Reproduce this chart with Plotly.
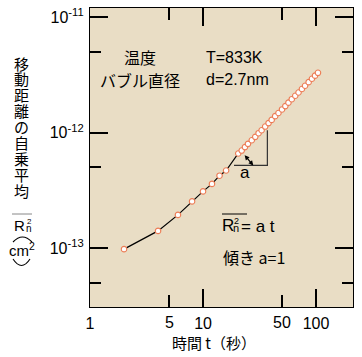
import math
import plotly.graph_objects as go

# ---- data ----
time_s = [2, 4, 6, 8, 10, 12, 14, 16,
          20.5, 22, 23.5, 25, 27, 29, 31, 33, 35.5, 38, 40.5, 43.5, 46.5,
          50, 53.5, 57, 61, 65.5, 70, 75, 80, 86, 92, 98, 104]
msd_cm2 = [9.8e-14, 1.41e-13, 1.94e-13, 2.54e-13, 3.1e-13, 3.6e-13, 4.24e-13, 4.7e-13,
           6.6e-13, 7.0e-13, 7.5e-13, 8.0e-13, 8.6e-13, 9.2e-13, 9.9e-13, 1.05e-12,
           1.13e-12, 1.21e-12, 1.29e-12, 1.39e-12, 1.48e-12, 1.59e-12, 1.70e-12,
           1.82e-12, 1.95e-12, 2.09e-12, 2.23e-12, 2.39e-12, 2.55e-12, 2.74e-12,
           2.93e-12, 3.12e-12, 3.3e-12]

tri_t = [18.8, 37.1, 37.1]
tri_y = [5.2e-13, 5.2e-13, 1.05e-12]

x_major = [1, 10, 100]
x_major_text = ["1", "10", "100"]
x_minor = [5, 50]
x_minor_text = ["5", "50"]
y_major = [1e-13, 1e-12, 1e-11]
y_major_text = ["10<sup>-13</sup>", "10<sup>-12</sup>", "10<sup>-11</sup>"]
y_minor = [5e-14, 5e-13, 5e-12]

ytitle_chars = ["移", "動", "距", "離", "の", "自", "乗", "平", "均"]

# ---- figure ----
W, H = 362, 357
L, R, T, B = 90, 9, 8, 50
PW, PH = W - L - R, H - T - B
FONT = "Liberation Sans, Arial, Noto Sans CJK JP"
CJK = "Noto Sans CJK JP, Liberation Sans"


def px(x):
    # page pixel -> paper fraction
    return (x - L) / PW


def py(y):
    return (H - B - y) / PH


fig = go.Figure()
fig.add_trace(go.Scatter(x=tri_t, y=tri_y, mode="lines",
                         line=dict(color="#333333", width=1.2),
                         hoverinfo="skip", showlegend=False))
fig.add_trace(go.Scatter(x=time_s, y=msd_cm2, mode="lines+markers",
                         line=dict(color="black", width=1.2),
                         marker=dict(symbol="circle", size=5.5, color="white",
                                     line=dict(color="#EC7C55", width=1.1)),
                         showlegend=False))

axis_common = dict(showline=True, linecolor="black", linewidth=1.2,
                   mirror="allticks", ticks="inside", ticklen=18,
                   tickcolor="black", tickwidth=1.5, showgrid=False,
                   zeroline=False, automargin=False,
                   ticklabeloverflow="allow",
                   tickfont=dict(family=FONT, size=16, color="black"))

fig.update_xaxes(type="log", range=[0, 2.327], tickmode="array",
                 tickvals=x_major, ticktext=x_major_text,
                 ticklabelstandoff=2,
                 minor=dict(tickvals=x_minor, ticks="inside", ticklen=12,
                            tickcolor="black", tickwidth=1.5, showgrid=False),
                 **axis_common)
fig.update_yaxes(type="log", range=[-13.51, -10.92], tickmode="array",
                 tickvals=y_major, ticktext=y_major_text,
                 ticklabelstandoff=2,
                 minor=dict(tickvals=y_minor, ticks="inside", ticklen=11,
                            tickcolor="black", tickwidth=1.5, showgrid=False),
                 **axis_common)

ann = []
# minor x tick labels
for v, t in zip(x_minor, x_minor_text):
    ann.append(dict(x=math.log10(v), xref="x", y=py(322), yref="paper",
                    text=t, showarrow=False, yanchor="middle",
                    font=dict(family=FONT, size=16, color="black")))


def txt(text, x, y, size=16, xanchor="left", family=FONT):
    ann.append(dict(x=px(x), y=py(y), xref="paper", yref="paper", text=text,
                    showarrow=False, xanchor=xanchor, yanchor="middle",
                    font=dict(family=family, size=size, color="black")))


txt("温度", 140, 57, 16, "center", CJK)
txt("T=833K", 204, 57, 16)
txt("バブル直径", 98, 80, 16, "left", CJK)
txt("d=2.7nm", 204, 80, 16)
txt("a", 245, 172, 17, "center")
txt("R", 220, 225, 17)
txt("2", 232, 221, 9)
txt("n", 231, 228, 11)
txt("= a t", 239, 226, 17)
txt("傾き a=1", 221, 257, 16, "left", CJK)
txt("時間 t（秒）", 214, 342, 15, "center", CJK)

# vertical y title
for i, ch in enumerate(ytitle_chars):
    txt(ch, 21, 63 + i * 15.9, 15, "center", CJK)
txt("R", 12, 225, 15)
txt("2", 25, 221, 8)
txt("n", 24, 228, 10)
txt("cm<sup>2</sup>", 22, 249, 15, "center")

# double-headed arrow for slope "a"
ann.append(dict(x=1.445, y=-12.284, xref="x", yref="y",
                ax=1.357, ay=-12.182, axref="x", ayref="y",
                text="", showarrow=True, arrowhead=2, arrowside="end+start",
                arrowsize=0.8, arrowwidth=1.2, arrowcolor="black"))


def arc(x0, x1, yend, yctrl):
    return dict(type="path", xref="paper", yref="paper",
                path=f"M {px(x0)},{py(yend)} Q {px((x0 + x1) / 2)},{py(yctrl)} {px(x1)},{py(yend)}",
                line=dict(color="black", width=1.1))


shapes = [
    dict(type="line", xref="paper", yref="paper", x0=px(222), x1=px(247),
         y0=py(214), y1=py(214), line=dict(color="black", width=1)),
    dict(type="line", xref="paper", yref="paper", x0=px(12), x1=px(32),
         y0=py(214), y1=py(214), line=dict(color="#888888", width=1)),
    arc(13, 32, 242, 232),
    arc(13, 30, 259, 272),
]

fig.update_layout(width=W, height=H, margin=dict(l=L, r=R, t=T, b=B),
                  paper_bgcolor="white", plot_bgcolor="#E9DDC5",
                  annotations=ann, shapes=shapes,
                  font=dict(family=FONT, size=15, color="black"))

fig.write_html("out.html", config={"displayModeBar": False},
               post_script="document.body.style.margin='0';"
                           "document.body.style.overflow='hidden';")
